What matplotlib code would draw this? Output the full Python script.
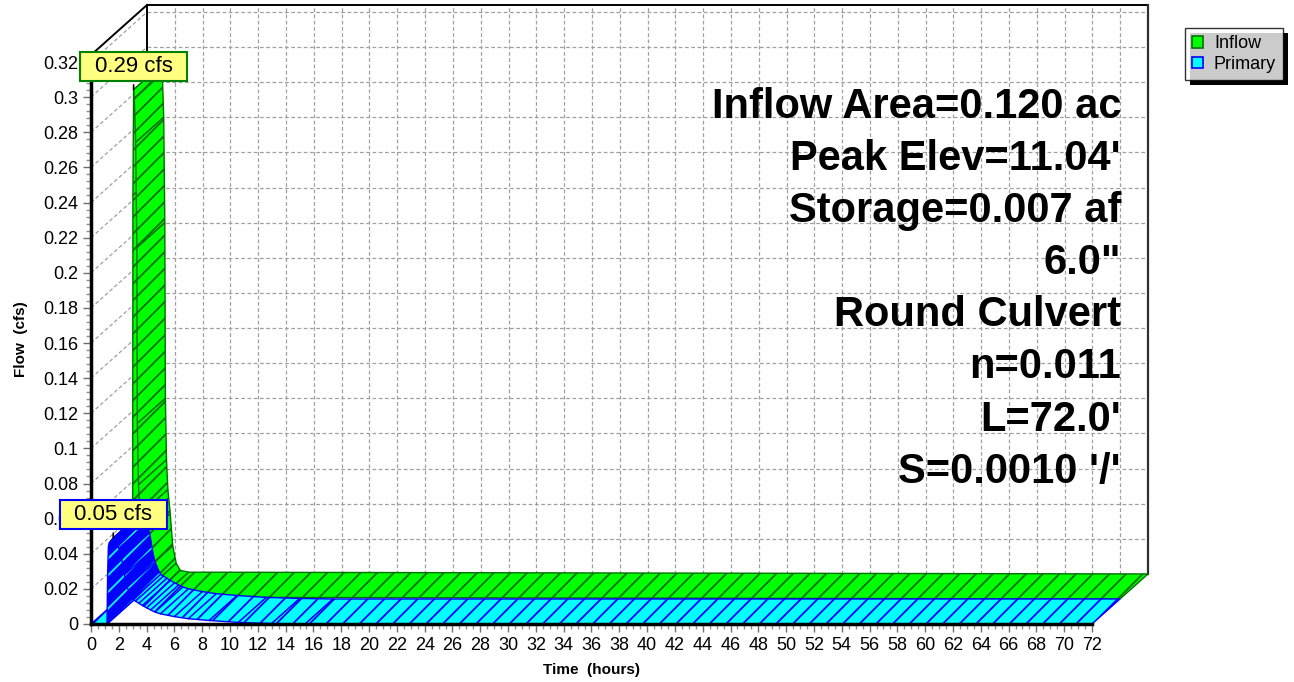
import numpy as np
import matplotlib
matplotlib.use("Agg")
import matplotlib.pyplot as plt
from matplotlib.patches import Polygon, Patch, Rectangle
from matplotlib.text import Text
from matplotlib.ticker import MultipleLocator, FuncFormatter

plt.rcParams['font.family'] = ['Liberation Sans', 'DejaVu Sans']
plt.rcParams['hatch.linewidth'] = 1.3

# hydrographs (hours, cfs)
time_inflow = [0, 0.98, 1.0, 1.05, 1.1, 1.2, 1.28, 1.32, 1.4, 1.5, 1.65, 1.85, 2.1, 2.4, 3.0, 72]
flow_inflow = [0, 0, 0.23, 0.29, 0.285, 0.26, 0.20, 0.10, 0.065, 0.048, 0.036, 0.016, 0.006, 0.002, 0.001, 0.0]

time_primary = [0, 1.15, 1.2, 1.25, 1.3, 1.4, 1.5, 1.6, 1.7, 1.8, 1.9, 2.0, 2.1, 2.2, 2.3, 2.4,
                2.5, 2.6, 2.7, 2.8, 2.9, 3.0, 3.2, 3.45, 3.7, 4.0, 4.3, 4.6, 5.0, 6.0, 7.0,
                8.5, 10.6, 13.0, 15.4, 72]
flow_primary = [0, 0, 0.030, 0.044, 0.046, 0.047, 0.048, 0.049, 0.049, 0.047, 0.045, 0.043, 0.040,
                0.0376, 0.033, 0.028, 0.024, 0.021, 0.019, 0.017, 0.0155, 0.014, 0.013, 0.0118,
                0.0105, 0.0092, 0.008, 0.0068, 0.0058, 0.0042, 0.003, 0.002, 0.0009, 0.0003, 0.0, 0.0]

series_names = ["Inflow", "Primary"]
peak_labels = ["0.29 cfs", "0.05 cfs"]
info_lines = ["Inflow Area=0.120 ac", "Peak Elev=11.04'", "Storage=0.007 af", '6.0"',
              "Round Culvert", "n=0.011", "L=72.0'", "S=0.0010 '/'"]

W, H = 1294, 682
fig = plt.figure(figsize=(W / 100, H / 100), dpi=100)
ax = fig.add_axes([91 / W, 58 / H, 1001 / W, 569 / H])
XMAX, YMAX = 72, 0.324
ax.set_xlim(0, XMAX)
ax.set_ylim(0, YMAX)
ax.patch.set_visible(False)

# depth of the pseudo 3d box, in data units
DX = 4.03
DY = 0.0285
# pixel sizes of one data unit, used to tell steep faces from flat ones
PX_X = 1001 / XMAX
PX_Y = 569 / YMAX

grid_kw = dict(color='#a0a0a0', ls=(0, (3, 2)), lw=0.9, clip_on=False, zorder=0.5)
for t in np.arange(2, XMAX, 2):
    ax.plot([t + DX, t + DX], [DY, YMAX + DY], **grid_kw)
for q in np.arange(0.02, YMAX, 0.02):
    ax.plot([DX, XMAX + DX], [q + DY, q + DY], **grid_kw)
    ax.plot([0, DX], [q, q + DY], **grid_kw)

edge_kw = dict(color='black', lw=1.4, clip_on=False, zorder=0.6)
ax.plot([DX, XMAX + DX], [YMAX + DY, YMAX + DY], **edge_kw)
ax.plot([DX, DX], [DY, YMAX + DY], **edge_kw)
ax.plot([XMAX + DX, XMAX + DX], [DY, YMAX + DY], color='#303030', lw=1.6, clip_on=False, zorder=0.6)
ax.plot([0, DX], [YMAX, YMAX + DY], **edge_kw)


def draw_ribbon(t, q, z0, z1, face, edge, dark_steep=False):
    depth_slope = (DY * PX_Y) / (DX * PX_X)
    for i in range(len(t) - 1):
        pts = [(t[i] + z0 * DX, q[i] + z0 * DY),
               (t[i + 1] + z0 * DX, q[i + 1] + z0 * DY),
               (t[i + 1] + z1 * DX, q[i + 1] + z1 * DY),
               (t[i] + z1 * DX, q[i] + z1 * DY)]
        dx_px = (t[i + 1] - t[i]) * PX_X
        dy_px = abs(q[i + 1] - q[i]) * PX_Y
        steep = dy_px > depth_slope * dx_px
        if dark_steep and steep:
            # densely sampled faces read as solid dark with light streaks
            ax.add_patch(Polygon(pts, closed=True, facecolor=edge, edgecolor=face,
                                 hatch='//', lw=0, clip_on=False, zorder=2))
            ax.add_patch(Polygon(pts, closed=True, fill=False, edgecolor=edge,
                                 lw=1.0, clip_on=False, zorder=2))
        else:
            ax.add_patch(Polygon(pts, closed=True, facecolor=face, edgecolor=edge,
                                 hatch='//', lw=1.0, clip_on=False, zorder=2))


# back series first, then the front one
draw_ribbon(time_inflow, flow_inflow, 0.5, 1.0, '#00ff00', '#007000')
draw_ribbon(time_primary, flow_primary, 0.0, 0.5, '#00ffff', '#0000ff', dark_steep=True)

# front axes
for s in ['top', 'right']:
    ax.spines[s].set_visible(False)
for s in ['left', 'bottom']:
    ax.spines[s].set_linewidth(2.5)
    ax.spines[s].set_zorder(3)
ax.xaxis.set_major_locator(MultipleLocator(2))
ax.xaxis.set_minor_locator(MultipleLocator(0.5))
ax.yaxis.set_major_locator(MultipleLocator(0.02))
ax.yaxis.set_minor_locator(MultipleLocator(0.004))
ax.yaxis.set_major_formatter(FuncFormatter(lambda v, _: f'{v:g}'))
ax.tick_params(which='major', direction='out', length=6, width=1, color='#707070',
               labelsize=13, pad=3)
ax.tick_params(which='minor', direction='out', length=3.5, width=1, color='#909090')
ax.set_xlabel("Time  (hours)", fontsize=11, fontweight='bold', labelpad=7)
ax.set_ylabel("Flow  (cfs)", fontsize=11, fontweight='bold', labelpad=11)

# peak callouts
series = [(time_inflow, flow_inflow, 0.5, '#008000'), (time_primary, flow_primary, 0.0, '#0000ff')]
callouts = []
for (t, q, z, ec), txt in zip(series, peak_labels):
    k = int(np.argmax(q))
    an = ax.annotate(txt, xy=(t[k] + z * DX, q[k] + z * DY), xytext=(0, 17), textcoords='offset points',
                     ha='center', va='center', fontsize=16, zorder=10, annotation_clip=False,
                     arrowprops=dict(arrowstyle='-', color='black', lw=1.2, shrinkA=4, shrinkB=0,
                                     relpos=(0.5, 0)))
    callouts.append((an, ec))

# info text block
for i, line in enumerate(info_lines):
    fig.text(1121 / W, 1 - (118 + 52.1 * i) / H, line, ha='right', va='baseline',
             fontsize=30, fontweight='bold')

handles = [Patch(facecolor='#00ff00', edgecolor='#007000', lw=1.2),
           Patch(facecolor='#00ffff', edgecolor='#0000ff', lw=1.2)]
leg = fig.legend(handles, series_names, loc='upper left', bbox_to_anchor=(1185 / W, 1 - 28 / H),
                 fontsize=13, frameon=True, fancybox=False, edgecolor='black',
                 handlelength=0.6, handleheight=0.6, handletextpad=0.6, borderpad=0.4,
                 labelspacing=0.2, borderaxespad=0)
leg.get_frame().set_linewidth(1.0)

fig.canvas.draw()
renderer = fig.canvas.get_renderer()
bb = leg.get_window_extent()
fig.patches.append(Rectangle((bb.x0 + 5, bb.y0 - 5), bb.width, bb.height, transform=None,
                             facecolor='black', zorder=4))
# yellow boxes behind the callout texts
for an, ec in callouts:
    tb = Text.get_window_extent(an, renderer)
    cx, cy = (tb.x0 + tb.x1) / 2, (tb.y0 + tb.y1) / 2
    ax.add_patch(Rectangle((cx - 53.5, cy - 14.5), 107, 29, transform=None, facecolor='#ffff80',
                           edgecolor=ec, lw=1.5, clip_on=False, zorder=9.5))

fig.savefig("out.png", dpi=100)
